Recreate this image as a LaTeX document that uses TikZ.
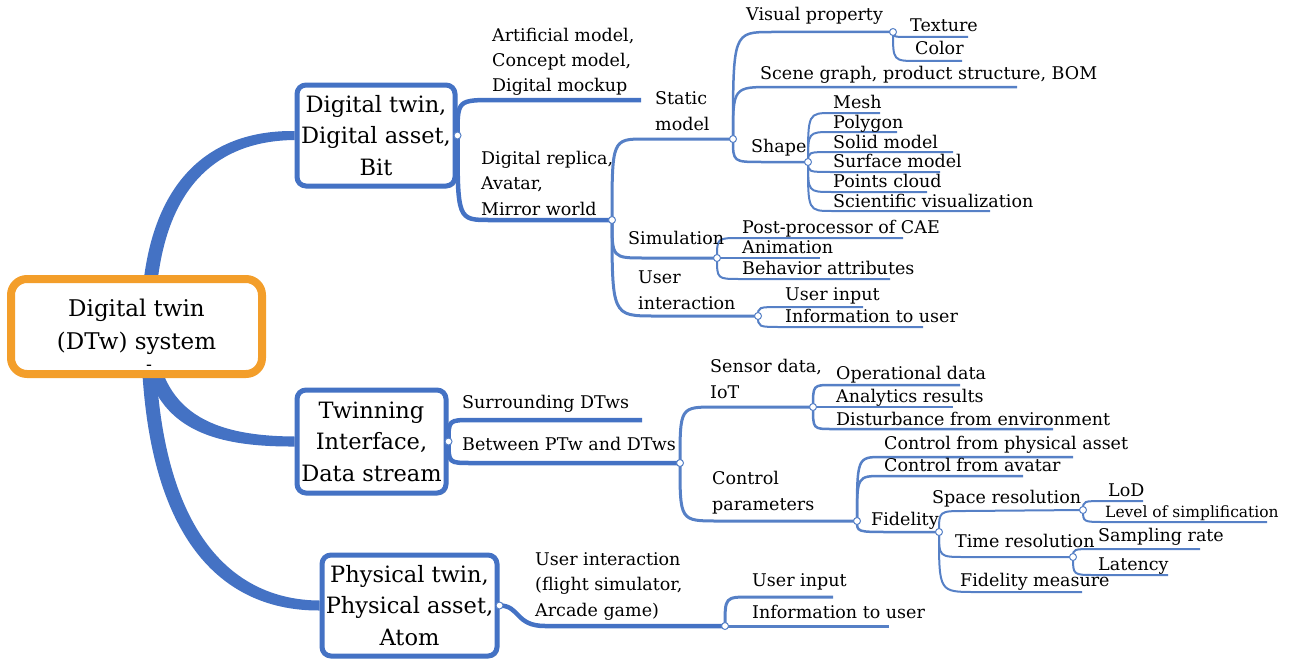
\documentclass[tikz,border=0pt]{standalone}
\usepackage{fontspec}
\setmainfont{DejaVu Serif}
\usetikzlibrary{shadows,calc}
\definecolor{bl}{RGB}{68,114,196}
\definecolor{bll}{RGB}{86,128,198}
\definecolor{org}{RGB}{243,158,42}
\newcommand\lblf{\fontsize{17.5}{25.5}\selectfont}
\newcommand\smallf{\fontsize{15.5}{20}\selectfont}
\newcommand\boxf{\fontsize{22.5}{31.5}\selectfont}
\newcommand\rootf{\fontsize{23}{33}\selectfont}
\newcommand\cnx[4][]{\draw[#1] (#2) .. controls (#2 |- #3) and (#2 |- #3) .. (#3) -- (#4);}
\pgfdeclarelayer{bg}
\pgfsetlayers{bg,main}
\begin{document}
\begin{tikzpicture}[x=1pt,y=-1pt,
  lbl/.style={anchor=base west, inner sep=0pt, font=\lblf, align=left},
  trunk/.style={fill=bl},
  lA/.style={draw=bl, line width=4.5pt},
  lB/.style={draw=bll, line width=3pt},
  lC/.style={draw=bll, line width=2.5pt},
  lD/.style={draw=bll, line width=2pt},
  jn/.style={circle, fill=white, draw=bll, line width=1pt, minimum size=7pt, inner sep=0pt},
  topic/.style={draw=bl, line width=5pt, rounded corners=9pt, fill=white, align=center, font=\boxf, inner sep=0pt,
    drop shadow={shadow xshift=2pt, shadow yshift=-2pt, fill=black!40, opacity=0.5}},
]
\useasboundingbox (0,0) rectangle (1293,661);

% ---------- boxes ----------
\node[topic, minimum width=251pt, minimum height=95pt, draw=org, line width=8pt, rounded corners=16pt, font=\rootf] (root) at (136.5,326.5) {Digital twin\\(DTw) system};
\node[lbl] (rdash) at (146,370) {-};
\node[topic, minimum width=158pt, minimum height=101pt] (dt) at (376,135.5) {Digital twin,\\Digital asset,\\Bit};
\node[topic, minimum width=149pt, minimum height=103pt] (tw) at (371.5,441.5) {Twinning\\Interface,\\Data stream};
\node[topic, minimum width=175pt, minimum height=101pt] (ph) at (409.5,605.5) {Physical twin,\\Physical asset,\\Atom};
\coordinate (rA) at (148,327);

% ---------- junctions ----------
\node[jn] (dtJ) at (dt.east) {};
\node[jn] (twJ) at (tw.east) {};
\node[jn] (phJ) at (ph.east) {};
\node[jn] (drJ) at (612,220) {};
\node[jn] (smJ) at (733,139) {};
\node[jn] (vpJ) at (893,32) {};
\node[jn] (shJ) at (808,162) {};
\node[jn] (siJ) at (717,258) {};
\node[jn] (uiJ) at (758,316) {};
\node[jn] (bpJ) at (680,463) {};
\node[jn] (sdJ) at (813,407) {};
\node[jn] (cpJ) at (857,521) {};
\node[jn] (fiJ) at (939,532) {};
\node[jn] (srJ) at (1083,510) {};
\node[jn] (trJ) at (1073,557) {};
\node[jn] (upJ) at (725,626) {};

% ---------- coordinates ----------
\coordinate (sAm) at (495,100); \coordinate (eAm) at (641,100);
\coordinate (sDr) at (490,220);
\coordinate (sSm) at (645,139);
\coordinate (sSi) at (645,258);
\coordinate (sUi) at (655,316);
\coordinate (sVp) at (772,32);
\coordinate (sSg) at (772,87); \coordinate (eSg) at (1017,87);
\coordinate (sSh) at (762,162);
\coordinate (sTx) at (912,37); \coordinate (eTx) at (968,37);
\coordinate (sCo) at (918,61); \coordinate (eCo) at (962,61);
\coordinate (sMe) at (832,113); \coordinate (eMe) at (880,113);
\coordinate (sPo) at (832,132); \coordinate (ePo) at (897,132);
\coordinate (sSo) at (832,152); \coordinate (eSo) at (953,152);
\coordinate (sSu) at (832,172); \coordinate (eSu) at (940,172);
\coordinate (sPc) at (832,192); \coordinate (ePc) at (927,192);
\coordinate (sSv) at (832,211); \coordinate (eSv) at (990,211);
\coordinate (sPp) at (740,238); \coordinate (ePp) at (903,238);
\coordinate (sAn) at (740,258); \coordinate (eAn) at (820,258);
\coordinate (sBa) at (740,279); \coordinate (eBa) at (890,279);
\coordinate (sUa) at (782,307); \coordinate (eUa) at (863,307);
\coordinate (sIa) at (782,327); \coordinate (eIa) at (923,327);
\coordinate (sSd) at (472,420); \coordinate (eSd) at (642,420);
\coordinate (sBp) at (472,463);
\coordinate (sSe) at (715,407);
\coordinate (sCp) at (718,521);
\coordinate (sOd) at (832,385); \coordinate (eOd) at (960,385);
\coordinate (sAr) at (832,407); \coordinate (eAr) at (953,407);
\coordinate (sDe) at (832,429); \coordinate (eDe) at (1053,429);
\coordinate (sCa) at (882,457); \coordinate (eCa) at (1073,457);
\coordinate (sCv) at (882,476); \coordinate (eCv) at (1023,476);
\coordinate (sFi) at (890,532);
\coordinate (sSr) at (965,511);
\coordinate (sTr) at (965,557);
\coordinate (sFm) at (975,592); \coordinate (eFm) at (1082,592);
\coordinate (sLo) at (1105,501); \coordinate (eLo) at (1143,501);
\coordinate (sLs) at (1105,522); \coordinate (eLs) at (1267,522);
\coordinate (sSa) at (1095,549); \coordinate (eSa) at (1200,549);
\coordinate (sLa) at (1095,575); \coordinate (eLa) at (1168,575);
\coordinate (sPu) at (545,626);
\coordinate (sUb) at (750,597); \coordinate (eUb) at (833,597);
\coordinate (sIb) at (750,626); \coordinate (eIb) at (889,626);

% ---------- connectors ----------
\begin{pgfonlayer}{bg}
\fill[trunk] ($(rA)+(-7,0)$) .. controls (141,196) and (197,130) .. ($(dt.west)+(0,-4.5)$)
  -- ($(dt.west)+(0,4.5)$) .. controls (203,141) and (155,204) .. ($(rA)+(7,0)$) -- cycle;
\fill[trunk] ($(rA)+(-7,0)$) .. controls (143,426) and (206,447) .. ($(tw.west)+(0,5)$)
  -- ($(tw.west)+(0,-5)$) .. controls (214,436) and (157,414) .. ($(rA)+(7,0)$) -- cycle;
\fill[trunk] ($(rA)+(-7,0)$) .. controls (141,545) and (226,611) .. ($(ph.west)+(0,5)$)
  -- ($(ph.west)+(0,-5)$) .. controls (234,600) and (155,535) .. ($(rA)+(7,0)$) -- cycle;

\cnx[lA]{dt.east}{sAm}{eAm}
\cnx[lA]{dt.east}{sDr}{drJ.center}
\cnx[lB]{drJ.center}{sSm}{smJ.center}
\cnx[lB]{drJ.center}{sSi}{siJ.center}
\cnx[lB]{drJ.center}{sUi}{uiJ.center}
\cnx[lC]{smJ.center}{sVp}{vpJ.center}
\cnx[lC]{smJ.center}{sSg}{eSg}
\cnx[lC]{smJ.center}{sSh}{shJ.center}
\cnx[lD]{vpJ.center}{sTx}{eTx}
\cnx[lD]{vpJ.center}{sCo}{eCo}
\cnx[lD]{shJ.center}{sMe}{eMe}
\cnx[lD]{shJ.center}{sPo}{ePo}
\cnx[lD]{shJ.center}{sSo}{eSo}
\cnx[lD]{shJ.center}{sSu}{eSu}
\cnx[lD]{shJ.center}{sPc}{ePc}
\cnx[lD]{shJ.center}{sSv}{eSv}
\cnx[lD]{siJ.center}{sPp}{ePp}
\cnx[lD]{siJ.center}{sAn}{eAn}
\cnx[lD]{siJ.center}{sBa}{eBa}
\cnx[lD]{uiJ.center}{sUa}{eUa}
\cnx[lD]{uiJ.center}{sIa}{eIa}

\cnx[lA]{tw.east}{sSd}{eSd}
\cnx[lA]{tw.east}{sBp}{bpJ.center}
\cnx[lB]{bpJ.center}{sSe}{sdJ.center}
\cnx[lB]{bpJ.center}{sCp}{cpJ.center}
\cnx[lC]{sdJ.center}{sOd}{eOd}
\cnx[lC]{sdJ.center}{sAr}{eAr}
\cnx[lC]{sdJ.center}{sDe}{eDe}
\cnx[lC]{cpJ.center}{sCa}{eCa}
\cnx[lC]{cpJ.center}{sCv}{eCv}
\cnx[lC]{cpJ.center}{sFi}{fiJ.center}
\cnx[lD]{fiJ.center}{sSr}{srJ.center}
\cnx[lD]{fiJ.center}{sTr}{trJ.center}
\cnx[lD]{fiJ.center}{sFm}{eFm}
\cnx[lD]{srJ.center}{sLo}{eLo}
\cnx[lD]{srJ.center}{sLs}{eLs}
\cnx[lD]{trJ.center}{sSa}{eSa}
\cnx[lD]{trJ.center}{sLa}{eLa}

\draw[lA] (ph.east) .. controls (520,605.5) and (515,626) .. (sPu) -- (upJ.center);
\cnx[lB]{upJ.center}{sUb}{eUb}
\cnx[lB]{upJ.center}{sIb}{eIb}
\end{pgfonlayer}

% ---------- labels (multi-line: position = baseline of last line) ----------
\node[lbl] (tAm) at (492,92) {Artificial model,\\Concept model,\\Digital mockup};
\node[lbl] (tDr) at (481,215) {Digital replica,\\Avatar,\\Mirror world};
\node[lbl] (tSm) at (655,130) {Static\\model};
\node[lbl] (tSi) at (628,244) {Simulation};
\node[lbl] (tUi) at (638,309) {User\\interaction};
\node[lbl] (tVp) at (746,21) {Visual property};
\node[lbl] (tSg) at (760,80) {Scene graph, product structure, BOM};
\node[lbl] (tSh) at (751,152) {Shape};
\node[lbl] (tTx) at (910,32) {Texture};
\node[lbl] (tCo) at (915,55) {Color};
\node[lbl] (tMe) at (833,108) {Mesh};
\node[lbl] (tPo) at (833,128) {Polygon};
\node[lbl] (tSo) at (833,148) {Solid model};
\node[lbl] (tSu) at (833,167) {Surface model};
\node[lbl] (tPc) at (833,187) {Points cloud};
\node[lbl] (tSv) at (833,207) {Scientific visualization};
\node[lbl] (tPp) at (742,233) {Post-processor of CAE};
\node[lbl] (tAn) at (742,253) {Animation};
\node[lbl] (tBa) at (742,274) {Behavior attributes};
\node[lbl] (tUa) at (785,300) {User input};
\node[lbl] (tIa) at (785,322) {Information to user};
\node[lbl] (tSd) at (462,408) {Surrounding DTws};
\node[lbl] (tBp) at (462,450) {Between PTw and DTws};
\node[lbl] (tSe) at (710,398) {Sensor data,\\IoT};
\node[lbl] (tCp) at (712,510) {Control\\parameters};
\node[lbl] (tOd) at (836,379) {Operational data};
\node[lbl] (tAr) at (836,402) {Analytics results};
\node[lbl] (tDe) at (836,425) {Disturbance from environment};
\node[lbl] (tCa) at (884,449) {Control from physical asset};
\node[lbl] (tCv) at (884,471) {Control from avatar};
\node[lbl] (tFi) at (871,525) {Fidelity};
\node[lbl] (tSr) at (932,503) {Space resolution};
\node[lbl] (tTr) at (955,547) {Time resolution};
\node[lbl] (tFm) at (960,586) {Fidelity measure};
\node[lbl] (tLo) at (1108,496) {LoD};
\node[lbl, font=\smallf] (tLs) at (1105,517) {Level of simplification};
\node[lbl] (tSa) at (1098,541) {Sampling rate};
\node[lbl] (tLa) at (1098,570) {Latency};
\node[lbl] (tPu) at (535,616) {User interaction\\(flight simulator,\\Arcade game)};
\node[lbl] (tUb) at (752,586) {User input};
\node[lbl] (tIb) at (752,618) {Information to user};
\end{tikzpicture}
\end{document}
